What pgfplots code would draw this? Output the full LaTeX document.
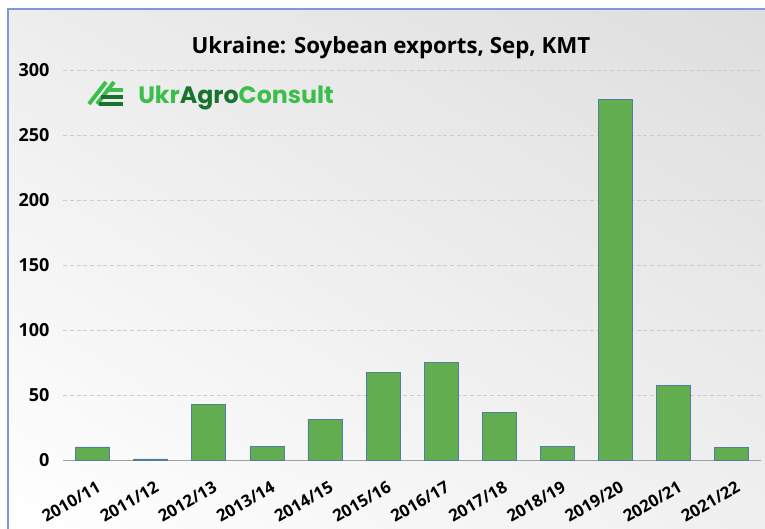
\documentclass[border=0pt]{standalone}
\usepackage{fontspec}
\setmainfont{Open Sans}
\newfontfamily\logofont{Poppins}
\usepackage{pgfplots}
\usetikzlibrary{shadings}
\pgfplotsset{compat=1.18}
\definecolor{bargreen}{RGB}{98,173,80}
\definecolor{baredge}{RGB}{80,125,160}
\definecolor{logogreen}{RGB}{60,190,75}
\definecolor{logodark}{RGB}{25,115,45}
\definecolor{frameblue}{RGB}{125,155,210}
\begin{document}
\begin{tikzpicture}[x=0.75pt,y=0.75pt]
\path[use as bounding box] (0,0) rectangle (765,529);
\fill[white] (0,0) rectangle (765,529);
\shade[upper left=gray!14, upper right=gray!26, lower left=white, lower right=gray!12] (8,0) rectangle (765,520);
\draw[frameblue, line width=1.1pt] (8,0) -- (8,520) -- (765,520);
% title
\node[font=\bfseries\fontsize{16.7}{20}\selectfont] at (391,481) {Ukraine: Soybean exports, Sep, KMT};
% logo icon
\begin{scope}[line width=3pt, line cap=butt]
\draw[logogreen] (89,425) -- (106,447);
\draw[logogreen] (97,425) -- (114,447);
\draw[logodark] (101,432) -- (123,432);
\draw[logodark] (99,425) -- (123,425);
\draw[logogreen] (106,439) -- (123,439);
\end{scope}
\node[anchor=base west, inner sep=0pt, font=\logofont\bfseries\fontsize{17.8}{21}\selectfont] at (138,425)
  {\textcolor{logogreen}{Ukr}\textcolor{logodark}{Agro}\textcolor{logogreen}{Consult}};
\begin{axis}[
  at={(47.6pt,51.75pt)}, anchor=south west,
  scale only axis, width=523pt, height=292.5pt,
  xmin=-0.5, xmax=11.5, ymin=0, ymax=300,
  ytick={0,50,...,300},
  xtick=data,
  xticklabels={2010/11,2011/12,2012/13,2013/14,2014/15,2015/16,2016/17,2017/18,2018/19,2019/20,2020/21,2021/22},
  axis x line*=bottom, axis y line*=left,
  x axis line style={draw=gray!75, -},
  y axis line style={draw=none},
  major tick length=0pt,
  ymajorgrids, grid style={densely dashed, gray!40, line width=0.4pt},
  /pgf/number format/assume math mode=true,
  yticklabel style={font=\bfseries\fontsize{13.5}{16}\selectfont, anchor=east, xshift=-7pt},
  xticklabel style={font=\bfseries\fontsize{12.5}{15}\selectfont, rotate=30, anchor=north east, xshift=-2pt, yshift=-11pt},
  clip=false,
]
\addplot[ybar, bar width=25.5pt, fill=bargreen, draw=baredge, line width=0.5pt] coordinates {
(0,10) (1,0.8) (2,43) (3,10.3) (4,31.5) (5,67.5) (6,75.2) (7,36.5) (8,10.3) (9,277.5) (10,57.2) (11,9.8)};
\end{axis}
\end{tikzpicture}
\end{document}
